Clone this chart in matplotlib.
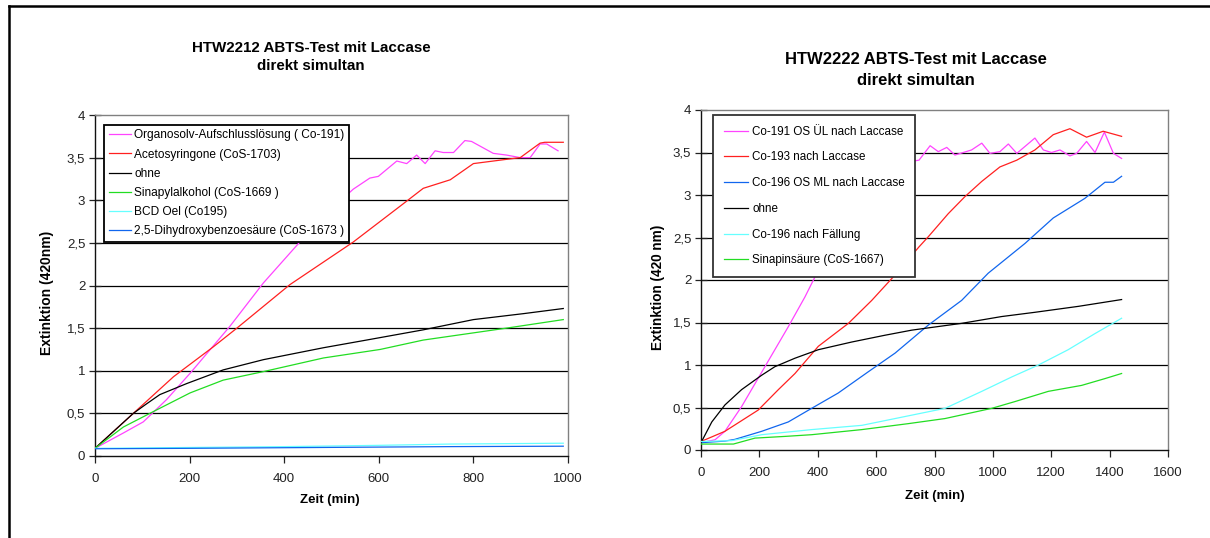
import matplotlib
matplotlib.use("Agg")
import matplotlib.pyplot as plt
from matplotlib.lines import Line2D

plt.rcParams['font.family'] = ['Liberation Sans', 'DejaVu Sans']

# ---------------- data: left chart (HTW2212) ----------------
l_org_x = [0, 60, 102, 151, 201, 285, 356, 433, 490, 546, 581, 599, 638, 659, 680, 698, 719, 736, 758, 782, 796, 842, 870, 899, 920, 941, 955, 979]
l_org_y = [0.09, 0.27, 0.40, 0.66, 0.97, 1.52, 2.03, 2.51, 2.85, 3.13, 3.26, 3.28, 3.46, 3.43, 3.53, 3.43, 3.58, 3.56, 3.56, 3.70, 3.69, 3.55, 3.53, 3.50, 3.50, 3.66, 3.66, 3.58]

l_ace_x = [0, 81, 166, 250, 300, 412, 546, 652, 694, 751, 800, 870, 899, 941, 951, 990]
l_ace_y = [0.09, 0.50, 0.93, 1.28, 1.50, 2.01, 2.51, 2.96, 3.14, 3.24, 3.43, 3.48, 3.50, 3.67, 3.68, 3.68]

l_ohne_x = [0, 81, 106, 137, 194, 271, 356, 483, 574, 694, 800, 906, 990]
l_ohne_y = [0.09, 0.50, 0.60, 0.72, 0.85, 1.01, 1.13, 1.27, 1.36, 1.48, 1.60, 1.67, 1.73]

l_sin_x = [0, 60, 123, 201, 271, 356, 483, 603, 694, 870, 990]
l_sin_y = [0.09, 0.34, 0.52, 0.74, 0.89, 0.99, 1.15, 1.25, 1.36, 1.50, 1.60]

l_bcd_x = [0, 100, 400, 600, 750, 990]
l_bcd_y = [0.09, 0.095, 0.11, 0.125, 0.14, 0.15]

l_dhb_x = [0, 200, 750, 990]
l_dhb_y = [0.085, 0.09, 0.11, 0.115]

l_labels = ["Organosolv-Aufschlusslösung ( Co-191)", "Acetosyringone (CoS-1703)", "ohne",
            "Sinapylalkohol (CoS-1669 )", "BCD Oel (Co195)", "2,5-Dihydroxybenzoesäure (CoS-1673 )"]

# ---------------- data: right chart (HTW2222) ----------------
r_191_x = [0, 48, 82, 139, 219, 299, 356, 391, 560, 747, 785, 813, 842, 870, 927, 962, 990, 1024, 1053, 1082, 1144, 1173, 1201, 1230, 1264, 1287, 1321, 1350, 1382, 1413, 1441]
r_191_y = [0.086, 0.12, 0.22, 0.51, 0.98, 1.45, 1.80, 2.04, 3.30, 3.41, 3.58, 3.51, 3.56, 3.47, 3.53, 3.61, 3.49, 3.51, 3.60, 3.49, 3.67, 3.53, 3.50, 3.53, 3.46, 3.49, 3.63, 3.50, 3.74, 3.49, 3.43]

r_193_x = [0, 82, 196, 265, 322, 402, 505, 585, 665, 747, 779, 847, 904, 962, 1024, 1082, 1144, 1207, 1264, 1321, 1378, 1441]
r_193_y = [0.10, 0.22, 0.47, 0.71, 0.90, 1.22, 1.49, 1.76, 2.06, 2.39, 2.51, 2.78, 2.98, 3.16, 3.33, 3.41, 3.53, 3.71, 3.78, 3.68, 3.75, 3.69]

r_196_x = [0, 82, 116, 208, 299, 379, 470, 573, 665, 779, 893, 984, 1110, 1207, 1315, 1384, 1413, 1441]
r_196_y = [0.086, 0.105, 0.125, 0.22, 0.33, 0.49, 0.67, 0.92, 1.14, 1.47, 1.76, 2.08, 2.43, 2.73, 2.96, 3.15, 3.15, 3.22]

r_ohne_x = [0, 37, 82, 139, 208, 253, 322, 402, 516, 630, 722, 893, 1030, 1144, 1293, 1441]
r_ohne_y = [0.086, 0.33, 0.53, 0.71, 0.88, 0.98, 1.08, 1.18, 1.27, 1.35, 1.41, 1.49, 1.57, 1.62, 1.69, 1.77]

r_fae_x = [0, 105, 208, 379, 551, 722, 836, 962, 1065, 1156, 1258, 1350, 1441]
r_fae_y = [0.10, 0.11, 0.18, 0.24, 0.29, 0.41, 0.49, 0.69, 0.86, 1.00, 1.18, 1.37, 1.55]

r_sin_x = [0, 111, 185, 288, 379, 551, 710, 836, 916, 996, 1076, 1190, 1304, 1384, 1441]
r_sin_y = [0.07, 0.07, 0.14, 0.16, 0.18, 0.24, 0.31, 0.37, 0.43, 0.49, 0.57, 0.69, 0.76, 0.84, 0.90]

r_labels = ["Co-191 OS ÜL nach Laccase", "Co-193 nach Laccase", "Co-196 OS ML nach Laccase",
            "ohne", "Co-196 nach Fällung", "Sinapinsäure (CoS-1667)"]

y_ticks = [0, 0.5, 1, 1.5, 2, 2.5, 3, 3.5, 4]
y_ticklabels = ["0", "0,5", "1", "1,5", "2", "2,5", "3", "3,5", "4"]
l_xticks = [0, 200, 400, 600, 800, 1000]
r_xticks = [0, 200, 400, 600, 800, 1000, 1200, 1400, 1600]

l_title = "HTW2212 ABTS-Test mit Laccase\ndirekt simultan"
r_title = "HTW2222 ABTS-Test mit Laccase\ndirekt simultan"

# ---------------- figure ----------------
W, H = 1210, 538
fig = plt.figure(figsize=(W / 100, H / 100), dpi=100)
fig.patch.set_facecolor('white')

def px_axes(x0, x1, y0, y1):
    return fig.add_axes([x0 / W, 1 - y1 / H, (x1 - x0) / W, (y1 - y0) / H])

axL = px_axes(95, 568, 115, 456)
axR = px_axes(701, 1168, 110, 450)

C_MAG = '#FF44FF'
C_RED = '#FF2020'
C_BLK = '#000000'
C_GRN = '#22DD22'
C_CYA = '#66FFFF'
C_BLU = '#1166EE'
LW = 0.9

def style(ax, xt, xmax):
    ax.set_xlim(0, xmax)
    ax.set_ylim(0, 4)
    ax.set_xticks(xt)
    ax.set_xticklabels([str(v) for v in xt])
    ax.set_yticks(y_ticks)
    ax.set_yticklabels(y_ticklabels)
    for v in y_ticks[1:-1]:
        ax.axhline(v, color='black', lw=0.9, zorder=1)
    for s in ['top', 'right']:
        ax.spines[s].set_color('#808080')
        ax.spines[s].set_linewidth(1.0)
    for s in ['left', 'bottom']:
        ax.spines[s].set_color('#111111')
        ax.spines[s].set_linewidth(1.0)
    ax.tick_params(axis='y', direction='inout', length=8, width=0.9, labelsize=9.5,
                   colors='#222222', pad=3)
    ax.tick_params(axis='x', direction='out', length=5, width=0.9, labelsize=9.5,
                   colors='#222222', pad=7)

style(axL, l_xticks, 1000)
style(axR, r_xticks, 1600)

axL.plot(l_org_x, l_org_y, color=C_MAG, lw=LW, label=l_labels[0], zorder=3)
axL.plot(l_ace_x, l_ace_y, color=C_RED, lw=LW, label=l_labels[1], zorder=3)
axL.plot(l_ohne_x, l_ohne_y, color=C_BLK, lw=LW, label=l_labels[2], zorder=3)
axL.plot(l_sin_x, l_sin_y, color=C_GRN, lw=LW, label=l_labels[3], zorder=3)
axL.plot(l_bcd_x, l_bcd_y, color=C_CYA, lw=LW, label=l_labels[4], zorder=3)
axL.plot(l_dhb_x, l_dhb_y, color=C_BLU, lw=LW, label=l_labels[5], zorder=3)

axR.plot(r_191_x, r_191_y, color=C_MAG, lw=LW, label=r_labels[0], zorder=3)
axR.plot(r_193_x, r_193_y, color=C_RED, lw=LW, label=r_labels[1], zorder=3)
axR.plot(r_196_x, r_196_y, color=C_BLU, lw=LW, label=r_labels[2], zorder=3)
axR.plot(r_ohne_x, r_ohne_y, color=C_BLK, lw=LW, label=r_labels[3], zorder=3)
axR.plot(r_fae_x, r_fae_y, color=C_CYA, lw=LW, label=r_labels[4], zorder=3)
axR.plot(r_sin_x, r_sin_y, color=C_GRN, lw=LW, label=r_labels[5], zorder=3)

legL = axL.legend(loc='upper left', bbox_to_anchor=(0.019, 0.971), fontsize=8.6,
                  frameon=True, fancybox=False, edgecolor='black', framealpha=1,
                  borderaxespad=0, handlelength=1.9, handletextpad=0.25,
                  labelspacing=0.60, borderpad=0.38)
legL.get_frame().set_linewidth(1.3)
legL.set_zorder(5)

legR = axR.legend(loc='upper left', bbox_to_anchor=(0.0257, 0.985), fontsize=8.4,
                  frameon=True, fancybox=False, edgecolor='#333333', framealpha=1,
                  borderaxespad=0, handlelength=2.1, handletextpad=0.35,
                  labelspacing=1.18, borderpad=0.9)
legR.get_frame().set_linewidth(1.3)
legR.set_zorder(5)

def ftext(x, y, s, **kw):
    fig.text(x / W, 1 - y / H, s, **kw)

ftext(311, 57, l_title, ha='center', va='center', fontsize=10.9, fontweight='bold', linespacing=1.45)
ftext(916, 70, r_title, ha='center', va='center', fontsize=12.0, fontweight='bold', linespacing=1.5)
ftext(330, 500, "Zeit (min)", ha='center', va='center', fontsize=9.5, fontweight='bold')
ftext(935, 496, "Zeit (min)", ha='center', va='center', fontsize=9.5, fontweight='bold')
ftext(47, 293, "Extinktion (420nm)", ha='center', va='center', rotation=90, fontsize=10, fontweight='bold')
ftext(658, 287, "Extinktion (420 nm)", ha='center', va='center', rotation=90, fontsize=9.8, fontweight='bold')

# outer frame lines (top and left)
fig.add_artist(Line2D([9 / W, 1], [1 - 6 / H, 1 - 6 / H], transform=fig.transFigure, color='black', lw=1.8))
fig.add_artist(Line2D([9 / W, 9 / W], [0, 1 - 6 / H], transform=fig.transFigure, color='black', lw=1.8))

fig.savefig("out.png", dpi=100, facecolor='white')
